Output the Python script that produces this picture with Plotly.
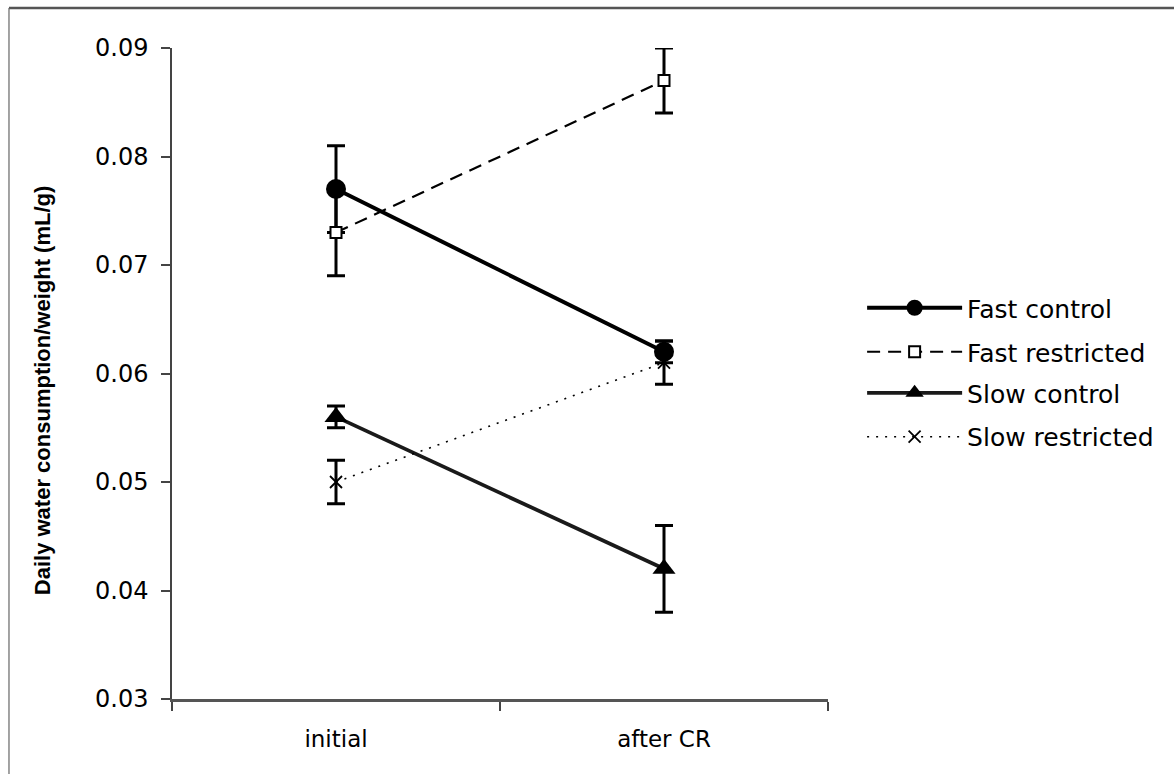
import plotly.graph_objects as go

stages = ["initial", "after CR"]

fast_control = [0.077, 0.062]
fast_control_err = [0.004, 0.001]
fast_restricted = [0.073, 0.087]
fast_restricted_err = [0.004, 0.003]
slow_control = [0.056, 0.042]
slow_control_err = [0.001, 0.004]
slow_restricted = [0.050, 0.061]
slow_restricted_err = [0.002, 0.002]

series = [
    dict(name="Fast control", y=fast_control, err=fast_control_err,
         line=dict(color="black", width=4, dash="solid"),
         marker=dict(symbol="circle", size=20, color="black")),
    dict(name="Fast restricted", y=fast_restricted, err=fast_restricted_err,
         line=dict(color="black", width=2.2, dash="13px,8px"),
         marker=dict(symbol="square", size=11, color="white",
                     line=dict(color="black", width=2))),
    dict(name="Slow control", y=slow_control, err=slow_control_err,
         line=dict(color="#1a1a1a", width=3.8, dash="solid"),
         marker=dict(symbol="triangle-up", size=20, color="black")),
    dict(name="Slow restricted", y=slow_restricted, err=slow_restricted_err,
         line=dict(color="black", width=1.6, dash="2px,7px"),
         marker=dict(symbol="x-thin-open", size=12, color="black",
                     line=dict(color="black", width=1.8))),
]

font = "DejaVu Sans, Arial, sans-serif"
title_font = "Liberation Sans, Arial, sans-serif"

# one legend box per series so the rows can be spaced freely
legend_ids = ["legend", "legend2", "legend3", "legend4"]
legend_rows = [0.6006, 0.533, 0.470, 0.4025]

fig = go.Figure()
for s, lid in zip(series, legend_ids):
    fig.add_trace(go.Scatter(
        x=stages, y=s["y"], name=s["name"], mode="lines+markers",
        line=s["line"], marker=s["marker"], legend=lid,
        error_y=dict(type="data", array=s["err"], visible=True,
                     color="black", thickness=3, width=9),
    ))

legend_layout = {}
for lid, ly in zip(legend_ids, legend_rows):
    legend_layout[lid] = dict(
        x=1.052, y=ly, xanchor="left", yanchor="middle",
        font=dict(size=25, family=font), itemwidth=95,
        bgcolor="rgba(0,0,0,0)", borderwidth=0)

fig.update_layout(
    width=1174, height=774,
    margin=dict(l=172, r=346, t=48, b=75),
    paper_bgcolor="white", plot_bgcolor="white",
    font=dict(family=font, color="black", size=23),
    showlegend=True,
    **legend_layout,
    xaxis=dict(type="category", tickson="boundaries", ticks="outside",
               ticklen=9, tickcolor="#444", tickwidth=1.5,
               showline=True, linecolor="#555", linewidth=2.5,
               showgrid=False, zeroline=False, ticklabelstandoff=18,
               tickfont=dict(size=23, family=font), range=[-0.5, 1.5]),
    yaxis=dict(range=[0.03, 0.09], dtick=0.01, tickformat=".2f",
               ticks="outside", ticklen=9, tickcolor="#444", tickwidth=1.5,
               showline=True, linecolor="#444", linewidth=1.5,
               showgrid=False, zeroline=False, ticklabelstandoff=8,
               tickfont=dict(size=24, family=font)),
    annotations=[
        dict(text="<b>Daily water consumption/weight (mL/g)</b>",
             xref="paper", yref="paper", x=-0.198, y=0.473,
             xanchor="center", yanchor="middle", textangle=-90,
             showarrow=False, font=dict(size=22, family=title_font)),
    ],
    shapes=[
        dict(type="line", xref="paper", yref="paper",
             x0=-0.2485, x1=1.53, y0=1.0614, y1=1.0614,
             line=dict(color="#555", width=2.5)),
        dict(type="line", xref="paper", yref="paper",
             x0=-0.2485, x1=-0.2485, y0=1.0614, y1=-0.12,
             line=dict(color="#666", width=1.2)),
    ],
)

fig.write_html("out.html")
